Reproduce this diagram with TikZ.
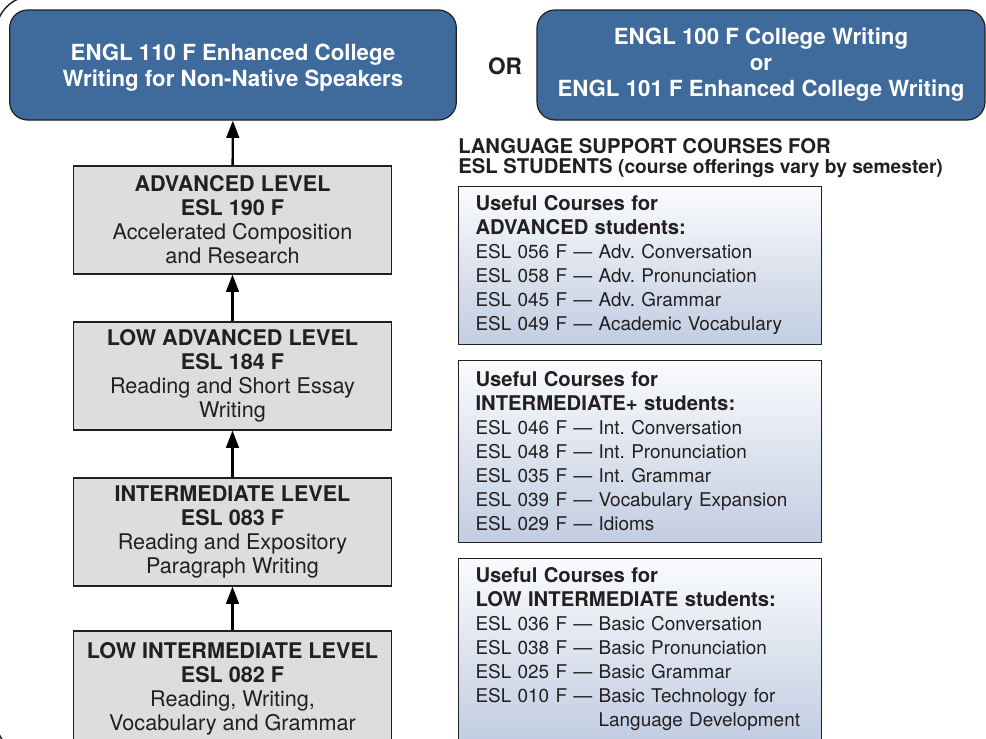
\documentclass[tikz,border=0pt]{standalone}
\usepackage{fontspec}
\setmainfont{TeX Gyre Heros}
\usetikzlibrary{arrows.meta}
\definecolor{englblue}{RGB}{62,106,156}
\definecolor{levelgray}{RGB}{220,221,223}
\definecolor{ink}{RGB}{35,31,32}
\definecolor{shadetop}{RGB}{250,251,253}
\definecolor{shadebot}{RGB}{193,205,225}
\newcommand{\useful}[1]{{\bfseries\fontsize{15.2}{18}\selectfont #1}}
\frenchspacing
\begin{document}
\begin{tikzpicture}[x=0.75pt,y=-0.75pt,
  engl/.style={draw=ink,line width=0.9pt,fill=englblue,rounded corners=13.5pt,
    minimum width=335pt,minimum height=82.5pt,text=white,align=center,
    font=\bfseries\fontsize{16.7}{19.5}\selectfont},
  level/.style={draw=ink,line width=0.8pt,fill=levelgray,minimum width=239pt,
    minimum height=81pt,align=center,text=ink,font=\fontsize{16.2}{18}\selectfont},
  courses/.style={draw=ink,line width=0.8pt,top color=shadetop,bottom color=shadebot,
    anchor=north west,text width=247pt,inner xsep=12.75pt,align=left,text=ink,
    font=\fontsize{14.2}{18}\selectfont},
  up/.style={-{Triangle[length=13pt,width=9.5pt]},line width=1.8pt,draw=black}]
\useasboundingbox (0,0) rectangle (986,739);
\clip (0,0) rectangle (986,739);
\draw[ink,line width=1.1pt,rounded corners=27.5pt] (200,-4) -- (-4,-4) -- (-4,756) -- (200,756);

\node[engl,text depth=0pt] (engl110) at (233,65) {ENGL 110 F Enhanced College\\Writing for Non-Native Speakers};
\node[engl,minimum width=336pt] (engl100) at (761,65) {ENGL 100 F College Writing\\or\\ENGL 101 F Enhanced College Writing};
\node[text=ink,font=\bfseries\fontsize{17}{20}\selectfont] (or) at (505,66) {OR};

\node[level] (adv) at (232.5,220) {\textbf{ADVANCED LEVEL}\\\textbf{ESL 190 F}\\Accelerated Composition\\and Research};
\node[level] (lowadv) at (232.5,376) {\textbf{LOW ADVANCED LEVEL}\\\textbf{ESL 184 F}\\Reading and Short Essay\\Writing};
\node[level] (inter) at (232.5,532) {\textbf{INTERMEDIATE LEVEL}\\\textbf{ESL 083 F}\\Reading and Expository\\Paragraph Writing};
\node[level,minimum height=87pt] (lowint) at (232.5,689) {\textbf{LOW INTERMEDIATE LEVEL}\\\textbf{ESL 082 F}\\Reading, Writing,\\Vocabulary and Grammar};

\draw[up] (lowint) -- (inter);
\draw[up] (inter) -- (lowadv);
\draw[up] (lowadv) -- (adv);
\draw[up] (adv) -- (engl110);

\node[anchor=west,align=left,inner sep=0pt,text=ink,font=\bfseries\fontsize{15.2}{15}\selectfont] (support) at (458,158)
  {LANGUAGE SUPPORT COURSES FOR\\ESL STUDENTS {\fontsize{14.4}{15}\selectfont(course offerings vary by semester)}};

\node[courses,minimum height=118.5pt] (advcourses) at (458,186) {\useful{Useful Courses for}\\\useful{ADVANCED students:}\\
  ESL 056 F \textemdash{} Adv. Conversation\\ESL 058 F \textemdash{} Adv. Pronunciation\\
  ESL 045 F \textemdash{} Adv. Grammar\\ESL 049 F \textemdash{} Academic Vocabulary};
\node[courses,minimum height=136.5pt] (intcourses) at (458,360) {\useful{Useful Courses for}\\\useful{INTERMEDIATE+ students:}\\
  ESL 046 F \textemdash{} Int. Conversation\\ESL 048 F \textemdash{} Int. Pronunciation\\
  ESL 035 F \textemdash{} Int. Grammar\\ESL 039 F \textemdash{} Vocabulary Expansion\\
  ESL 029 F \textemdash{} Idioms};
\node[courses,minimum height=136.5pt] (lowcourses) at (458,558) {\useful{Useful Courses for}\\\useful{LOW INTERMEDIATE students:}\\
  ESL 036 F \textemdash{} Basic Conversation\\ESL 038 F \textemdash{} Basic Pronunciation\\
  ESL 025 F \textemdash{} Basic Grammar\\ESL 010 F \textemdash{} Basic Technology for\\
  \phantom{ESL 010 F \textemdash{} }Language Development};
\end{tikzpicture}
\end{document}
